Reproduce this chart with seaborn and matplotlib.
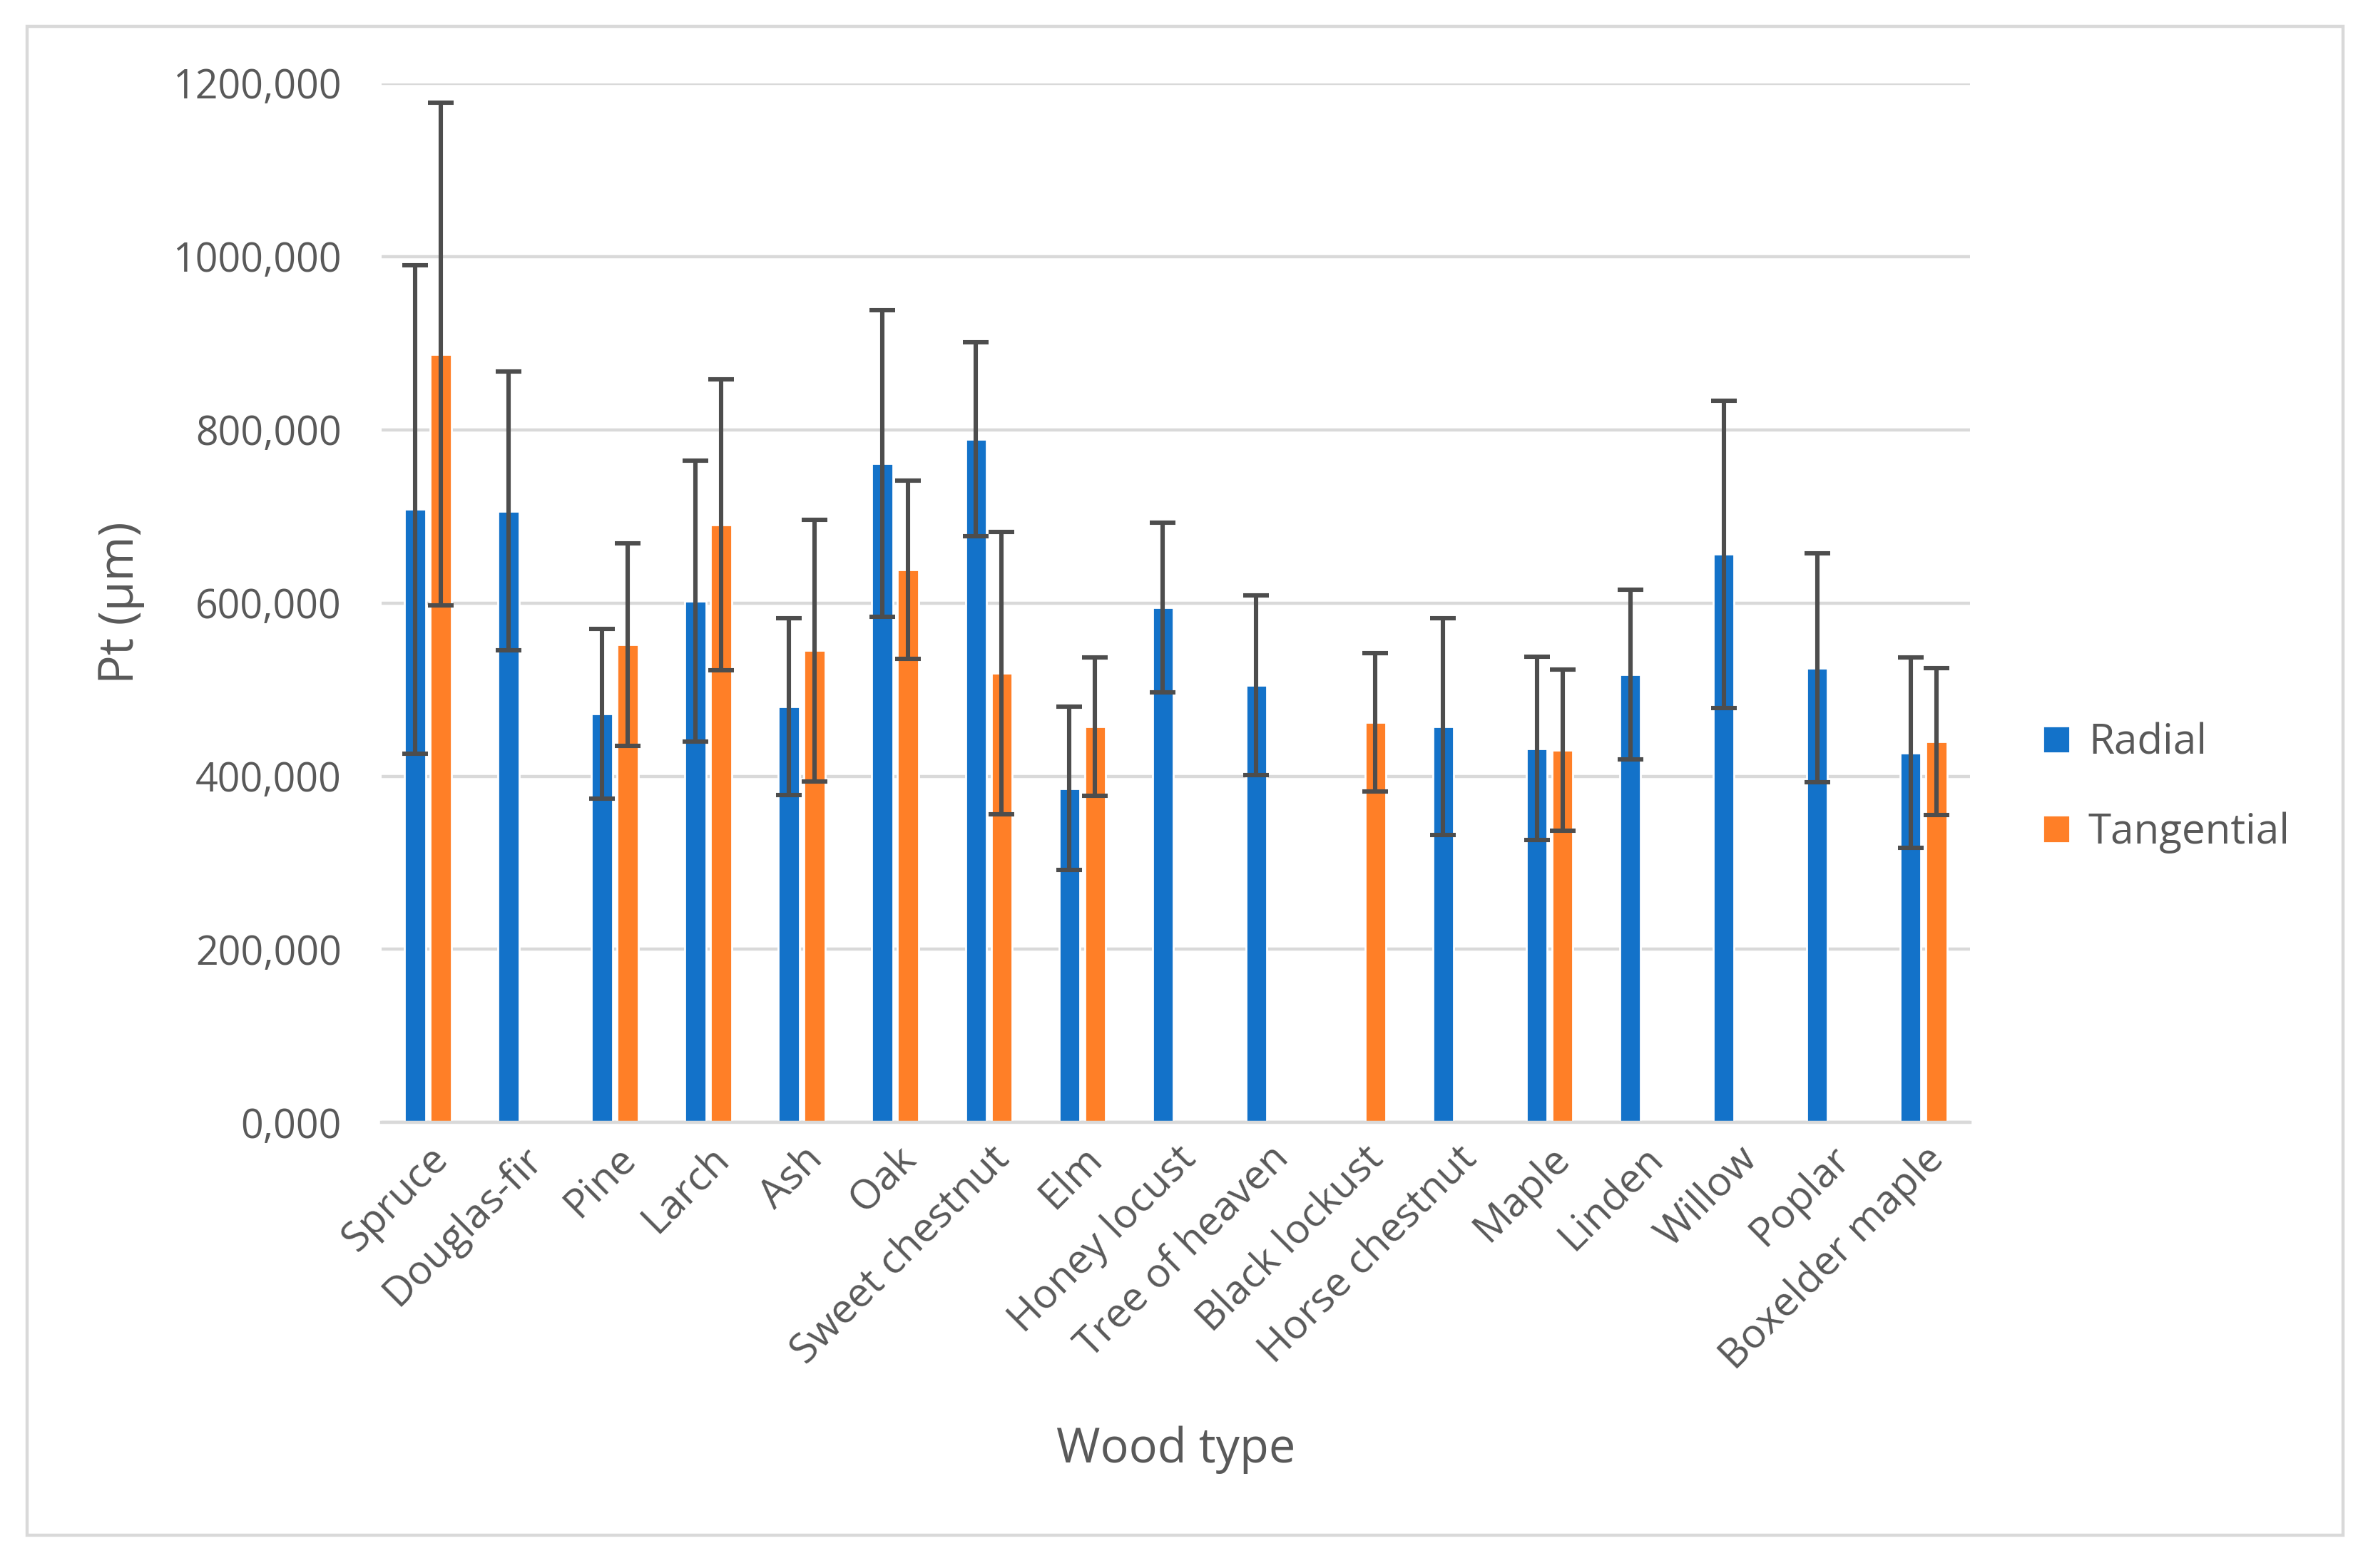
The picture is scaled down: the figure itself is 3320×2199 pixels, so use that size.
import numpy as np
import pandas as pd
import matplotlib
matplotlib.use('Agg')
import matplotlib.pyplot as plt
import seaborn as sns
from matplotlib.patches import Rectangle

woods = ['Spruce', 'Douglas-fir', 'Pine', 'Larch', 'Ash', 'Oak', 'Sweet chestnut', 'Elm',
         'Honey locust', 'Tree of heaven', 'Black lockust', 'Horse chestnut', 'Maple',
         'Linden', 'Willow', 'Poplar', 'Boxelder maple']
radial = [708, 706, 472, 602, 480, 761, 789, 386, 595, 505, np.nan, 457, 432, 517, 656, 525, 427]
radial_err = [282, 161, 98, 162, 102, 177, 112, 94, 98, 104, np.nan, 125, 106, 98, 177, 132, 110]
tangential = [887, np.nan, 552, 690, 545, 638, 519, 457, np.nan, np.nan, 462, np.nan, 430, np.nan, np.nan, np.nan, 440]
tangential_err = [290, np.nan, 117, 168, 151, 103, 163, 80, np.nan, np.nan, 80, np.nan, 93, np.nan, np.nan, np.nan, 85]
yticks = [0, 200, 400, 600, 800, 1000, 1200]

df = pd.DataFrame({
    'Wood type': woods * 2,
    'Pt': radial + tangential,
    'Direction': ['Radial'] * len(woods) + ['Tangential'] * len(woods),
})
errs = {'Radial': radial_err, 'Tangential': tangential_err}

sns.set_style('white')
plt.rcParams['font.family'] = ['Open Sans', 'DejaVu Sans']

fig = plt.figure(figsize=(16.6, 10.995), dpi=200)
ax = fig.add_axes([0.161, 0.284, 0.671, 0.663])

palette = {'Radial': '#1372C9', 'Tangential': '#FF7F27'}
sns.barplot(data=df, x='Wood type', y='Pt', hue='Direction', order=woods,
            hue_order=['Radial', 'Tangential'], palette=palette, width=0.55, gap=0.18,
            saturation=1, errorbar=None, ax=ax, legend=True)

# error bars placed on the bars seaborn drew
for cont, name in zip(ax.containers, ['Radial', 'Tangential']):
    for p in cont.patches:
        h = p.get_height()
        if np.isnan(h) or h == 0:
            continue
        xc = p.get_x() + p.get_width() / 2
        i = int(round(xc))
        e = errs[name][i]
        ax.errorbar(xc, h, yerr=e, fmt='none', ecolor='#4D4D4D', elinewidth=2.2,
                    capsize=6.5, capthick=2.2, zorder=3)

ax.set_ylim(0, 1200)
ax.set_xlim(-0.5, len(woods) - 0.5)
ax.set_yticks(yticks)
ax.set_yticklabels([f'{v:.3f}'.replace('.', ',') for v in yticks])
ax.yaxis.grid(True, color='#D9D9D9', linewidth=1.6)
ax.set_axisbelow(True)
for s in ['top', 'right', 'left']:
    ax.spines[s].set_visible(False)
ax.spines['bottom'].set_color('#D9D9D9')
ax.spines['bottom'].set_linewidth(1.6)
ax.tick_params(axis='y', length=0, labelsize=20, labelcolor='#595959', pad=20)
ax.tick_params(axis='x', length=0, labelsize=20.5, labelcolor='#595959', pad=8)
plt.setp(ax.get_xticklabels(), rotation=45, ha='right', rotation_mode='anchor')

ax.set_xlabel('Wood type', fontsize=24, color='#595959', labelpad=24)
ax.set_ylabel('Pt (µm)', fontsize=24.5, color='#595959', labelpad=14)

leg = ax.legend(loc='center left', bbox_to_anchor=(1.022, 0.322), frameon=False,
                fontsize=21, handlelength=0.65, handleheight=0.65, handletextpad=0.45,
                labelspacing=1.15, labelcolor='#595959')

fig.patches.append(Rectangle((0.0115, 0.021), 0.978, 0.962, transform=fig.transFigure,
                             fill=False, edgecolor='#D9D9D9', linewidth=1.6))

fig.savefig('out.png', dpi=200, facecolor='white')
